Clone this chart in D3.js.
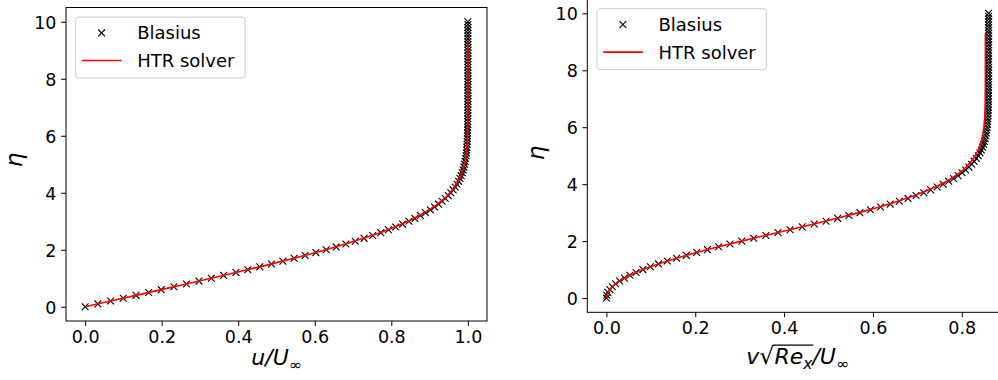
<!DOCTYPE html>
<html>
<head>
<meta charset="utf-8">
<script src="https://cdn.jsdelivr.net/npm/d3@7"></script>
<style>
  body { margin: 0; background: #fff; }
  svg { display: block; font-family: "DejaVu Sans", sans-serif; }
</style>
</head>
<body>
<div id="vis"></div>
<script>
// Blasius similarity solution, sampled every 0.1 in eta
const etaBlasius = [
  0.0,0.1,0.2,0.3,0.4,0.5,0.6,0.7,0.8,0.9,
  1.0,1.1,1.2,1.3,1.4,1.5,1.6,1.7,1.8,1.9,
  2.0,2.1,2.2,2.3,2.4,2.5,2.6,2.7,2.8,2.9,
  3.0,3.1,3.2,3.3,3.4,3.5,3.6,3.7,3.8,3.9,
  4.0,4.1,4.2,4.3,4.4,4.5,4.6,4.7,4.8,4.9,
  5.0,5.1,5.2,5.3,5.4,5.5,5.6,5.7,5.8,5.9,
  6.0,6.1,6.2,6.3,6.4,6.5,6.6,6.7,6.8,6.9,
  7.0,7.1,7.2,7.3,7.4,7.5,7.6,7.7,7.8,7.9,
  8.0,8.1,8.2,8.3,8.4,8.5,8.6,8.7,8.8,8.9,
  9.0,9.1,9.2,9.3,9.4,9.5,9.6,9.7,9.8,9.9,
  10.0
];
const uBlasius = [
  0.0000,0.0332,0.0664,0.0996,0.1328,0.1659,0.1989,0.2319,0.2647,0.2974,
  0.3298,0.3619,0.3938,0.4252,0.4563,0.4868,0.5168,0.5461,0.5748,0.6027,
  0.6298,0.6560,0.6813,0.7057,0.7290,0.7513,0.7725,0.7926,0.8115,0.8294,
  0.8461,0.8616,0.8761,0.8895,0.9018,0.9130,0.9233,0.9327,0.9411,0.9487,
  0.9555,0.9616,0.9670,0.9717,0.9759,0.9795,0.9827,0.9854,0.9878,0.9898,
  0.9916,0.9930,0.9943,0.9953,0.9962,0.9969,0.9975,0.9980,0.9984,0.9987,
  0.9990,0.9992,0.9994,0.9995,0.9996,0.9997,0.9998,0.9998,0.9999,0.9999,
  0.9999,1.0000,1.0000,1.0000,1.0000,1.0000,1.0000,1.0000,1.0000,1.0000,
  1.0000,1.0000,1.0000,1.0000,1.0000,1.0000,1.0000,1.0000,1.0000,1.0000,
  1.0000,1.0000,1.0000,1.0000,1.0000,1.0000,1.0000,1.0000,1.0000,1.0000,
  1.0000
];
const vBlasius = [
  0.0000,0.0008,0.0033,0.0075,0.0133,0.0207,0.0298,0.0405,0.0528,0.0667,
  0.0821,0.0990,0.1173,0.1369,0.1579,0.1800,0.2033,0.2275,0.2525,0.2783,
  0.3048,0.3316,0.3589,0.3862,0.4136,0.4409,0.4679,0.4946,0.5206,0.5460,
  0.5707,0.5944,0.6172,0.6389,0.6595,0.6790,0.6972,0.7143,0.7301,0.7447,
  0.7582,0.7705,0.7816,0.7917,0.8007,0.8088,0.8161,0.8224,0.8280,0.8330,
  0.8372,0.8409,0.8441,0.8468,0.8492,0.8511,0.8528,0.8542,0.8554,0.8563,
  0.8571,0.8578,0.8583,0.8587,0.8591,0.8594,0.8596,0.8598,0.8599,0.8600,
  0.8601,0.8601,0.8602,0.8602,0.8603,0.8603,0.8604,0.8604,0.8604,0.8604,
  0.8604,0.8604,0.8604,0.8604,0.8604,0.8604,0.8604,0.8604,0.8604,0.8604,
  0.8604,0.8604,0.8604,0.8604,0.8604,0.8604,0.8604,0.8604,0.8604,0.8604,
  0.8604
];

// HTR solver profile
const etaHTR = [
  0.0,0.2,0.4,0.6,0.8,1.0,1.2,1.4,1.6,1.8,
  2.0,2.2,2.4,2.6,2.8,3.0,3.2,3.4,3.6,3.8,
  4.0,4.2,4.4,4.6,4.8,5.0,5.2,5.4,5.6,5.8,
  6.0,6.2,6.4,6.6,6.8,7.0,7.2,7.4,7.6,7.8,
  8.0,8.2,8.4,8.6,8.8,9.0,9.2,9.3
];
const uHTR = [
  0.0000,0.0664,0.1327,0.1988,0.2645,0.3295,0.3934,0.4557,0.5160,0.5738,
  0.6286,0.6798,0.7272,0.7705,0.8093,0.8437,0.8736,0.8993,0.9209,0.9389,
  0.9535,0.9652,0.9744,0.9815,0.9869,0.9909,0.9938,0.9959,0.9973,0.9983,
  0.9989,0.9993,0.9996,0.9997,0.9998,0.9999,0.9999,1.0000,1.0000,1.0000,
  1.0000,1.0000,1.0000,1.0000,1.0000,1.0000,1.0000,1.0000
];
const vHTR = [
  0.0000,0.0033,0.0132,0.0297,0.0527,0.0819,0.1170,0.1576,0.2028,0.2520,
  0.3041,0.3580,0.4126,0.4666,0.5190,0.5686,0.6147,0.6565,0.6937,0.7261,
  0.7537,0.7766,0.7953,0.8101,0.8217,0.8306,0.8373,0.8422,0.8457,0.8482,
  0.8499,0.8511,0.8519,0.8524,0.8527,0.8529,0.8530,0.8531,0.8531,0.8532,
  0.8532,0.8532,0.8532,0.8532,0.8532,0.8532,0.8532,0.8532
];

const uTicks = [0, 0.2, 0.4, 0.6, 0.8, 1.0];
const vTicks = [0, 0.2, 0.4, 0.6, 0.8];
const etaTicks = [0, 2, 4, 6, 8, 10];
const legendLabels = ['Blasius', 'HTR solver'];

const W = 998, H = 380;
const $svg = d3.select('#vis').append('svg').attr('width', W).attr('height', H);
const cross = 'M-3.4,-3.4L3.4,3.4M-3.4,3.4L3.4,-3.4';

// pixel boxes of the two axes (the right one runs off the picture)
const panels = [
  { box: { x0: 66, x1: 487, y0: 7.5, y1: 321 },
    xs: uBlasius, xh: uHTR, ticks: uTicks, xbase: 365,
    xlabel: [{ t: 'u', it: true }, { t: '/', it: true }, { t: 'U', it: true }, { t: '∞', sub: true }],
    ylab: { x: 22, y: 160 } },
  { box: { x0: 587.3, x1: 1007.7, y0: -0.9, y1: 312.3 },
    xs: vBlasius, xh: vHTR, ticks: vTicks, xbase: 364,
    xlabel: [{ t: 'v', it: true }, { t: '√', root: true }, { t: 'Re', it: true, over: true },
             { t: 'x', it: true, sub: true, over: true }, { t: '/', it: true }, { t: 'U', it: true }, { t: '∞', sub: true }],
    ylab: { x: 543.5, y: 153 } }
];

function padded(vals) {
  const [a, b] = d3.extent(vals);
  const p = (b - a) * 0.05;
  return [a - p, b + p];
}

function mathLabel(g, pieces, cx, base, size) {
  const grp = g.append('g');
  let xpos = 0, overStart = null, overEnd = null;
  pieces.forEach(p => {
    const fs = p.sub ? size * 0.7 : (p.root ? size * 1.08 : size);
    const t = grp.append('text')
      .attr('x', xpos)
      .attr('y', p.sub ? base + size * 0.22 : base)
      .attr('font-size', fs)
      .attr('font-style', p.it ? 'italic' : 'normal')
      .attr('fill', '#000')
      .text(p.t);
    const w = t.node().getComputedTextLength();
    if (p.over) {
      if (overStart === null) overStart = xpos;
      overEnd = xpos + w + 1;
    }
    xpos += w;
  });
  if (overStart !== null) {
    grp.append('line')
      .attr('x1', overStart - 1).attr('x2', overEnd)
      .attr('y1', base - size * 0.86).attr('y2', base - size * 0.86)
      .attr('stroke', '#000').attr('stroke-width', 1.2);
  }
  grp.attr('transform', `translate(${cx - xpos / 2},0)`);
}

panels.forEach(P => {
  const b = P.box;
  const x = d3.scaleLinear().domain(padded(P.xs)).range([b.x0, b.x1]);
  const y = d3.scaleLinear().domain(padded(etaBlasius)).range([b.y1, b.y0]);

  const $g = $svg.append('g');

  // Blasius markers
  const blas = etaBlasius.map((e, i) => ({ eta: e, val: P.xs[i] }));
  $g.append('g').selectAll('path')
    .data(blas)
    .enter().append('path')
    .attr('transform', d => `translate(${x(d.val)},${y(d.eta)})`)
    .attr('d', cross)
    .attr('stroke', '#000')
    .attr('stroke-width', 1.1)
    .attr('fill', 'none');

  // HTR line
  const htr = etaHTR.map((e, i) => ({ eta: e, val: P.xh[i] }));
  const line = d3.line().x(d => x(d.val)).y(d => y(d.eta));
  $g.append('path')
    .datum(htr)
    .attr('d', line)
    .attr('fill', 'none')
    .attr('stroke', '#ff0000')
    .attr('stroke-width', 1.6);

  // spines
  $g.append('rect')
    .attr('x', b.x0).attr('y', b.y0)
    .attr('width', b.x1 - b.x0).attr('height', b.y1 - b.y0)
    .attr('fill', 'none').attr('stroke', '#000').attr('stroke-width', 1);

  const xAxis = d3.axisBottom(x).tickValues(P.ticks).tickFormat(d3.format('.1f'))
    .tickSize(4.9).tickPadding(4.6);
  const yAxis = d3.axisLeft(y).tickValues(etaTicks).tickFormat(d3.format('d'))
    .tickSize(4.9).tickPadding(4.6);

  $g.append('g')
    .attr('transform', `translate(0,${b.y1})`)
    .call(xAxis)
    .call(a => a.select('.domain').remove())
    .call(a => a.selectAll('text').attr('font-size', 17.5).attr('font-family', '"DejaVu Sans", sans-serif').attr('fill', '#000'))
    .call(a => a.selectAll('line').attr('stroke', '#000'));

  $g.append('g')
    .attr('transform', `translate(${b.x0},0)`)
    .call(yAxis)
    .call(a => a.select('.domain').remove())
    .call(a => a.selectAll('text').attr('font-size', 17.5).attr('dy', '0.36em').attr('font-family', '"DejaVu Sans", sans-serif').attr('fill', '#000'))
    .call(a => a.selectAll('line').attr('stroke', '#000'));

  // axis labels
  mathLabel($g, P.xlabel, (b.x0 + b.x1) / 2, P.xbase, 22);
  $g.append('text')
    .attr('transform', `translate(${P.ylab.x},${P.ylab.y}) rotate(-90)`)
    .attr('text-anchor', 'middle')
    .attr('font-size', 23)
    .attr('font-style', 'italic')
    .text('η');

  // legend
  const $leg = $g.append('g').attr('transform', `translate(${b.x0 + 9.6},${b.y0 + 9.6})`);
  $leg.append('rect')
    .attr('width', 169.5).attr('height', 61).attr('rx', 3)
    .attr('fill', '#fff').attr('fill-opacity', 0.8)
    .attr('stroke', '#cccccc').attr('stroke-width', 1);
  $leg.append('path')
    .attr('transform', 'translate(26,15.8)')
    .attr('d', cross)
    .attr('stroke', '#000').attr('stroke-width', 1.1);
  $leg.append('line')
    .attr('x1', 6.3).attr('x2', 46).attr('y1', 43.4).attr('y2', 43.4)
    .attr('stroke', '#ff0000').attr('stroke-width', 1.6);
  $leg.selectAll('text.lab')
    .data(legendLabels)
    .enter().append('text')
    .attr('class', 'lab')
    .attr('x', 61.6)
    .attr('y', (d, i) => 15.8 + i * 27.6)
    .attr('dy', '0.36em')
    .attr('font-size', 18)
    .attr('fill', '#000')
    .text(d => d);
});
</script>
</body>
</html>
